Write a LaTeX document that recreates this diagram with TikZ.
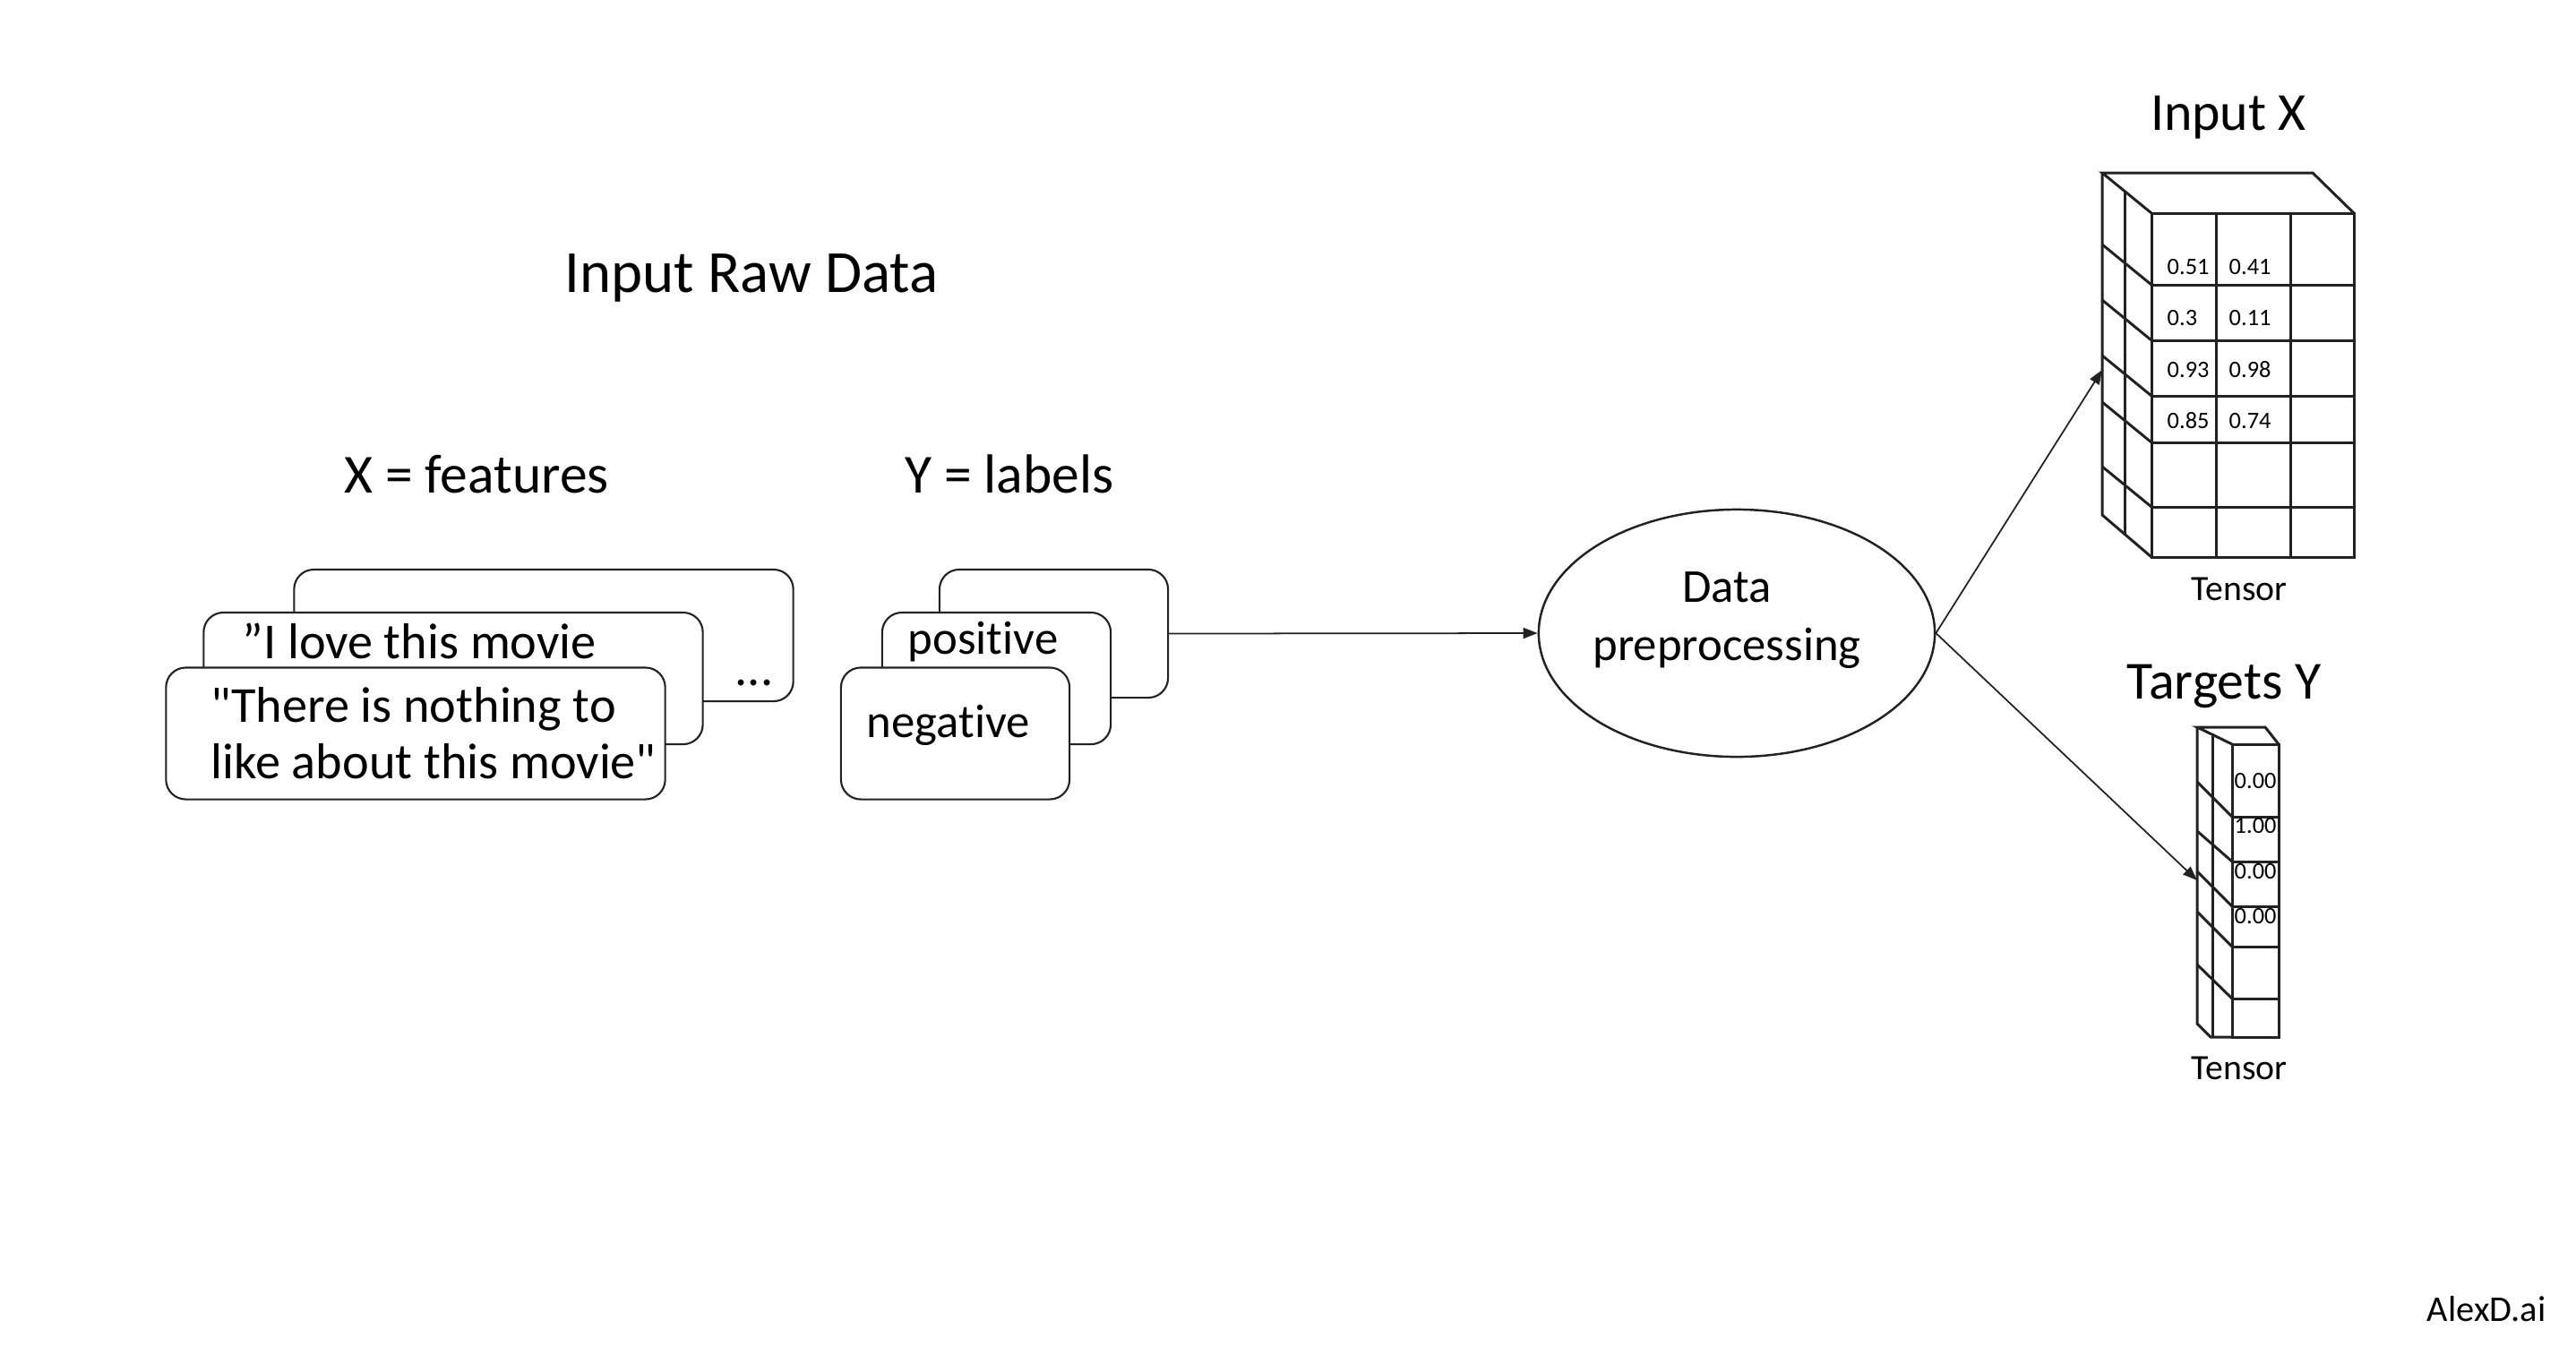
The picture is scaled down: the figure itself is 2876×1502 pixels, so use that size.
\documentclass[tikz,border=0pt]{standalone}
\usepackage{fontspec}
\setmainfont{Carlito}[Ligatures={TeX,NoCommon}]
\usetikzlibrary{arrows.meta,shapes.geometric}
\definecolor{ink}{RGB}{34,34,34}
\tikzset{
  card/.style={draw=ink, fill=white, line width=0.6pt, rounded corners=0.22cm,
               minimum height=1.47cm, inner sep=0pt},
  fcard/.style={card, minimum width=5.57cm},
  lcard/.style={card, minimum width=2.55cm},
  proc/.style={draw=ink, ellipse, line width=0.7pt, minimum width=4.42cm,
               minimum height=2.76cm, inner sep=0pt},
  arr/.style={-{Triangle[length=0.16cm, width=0.12cm]}, ink, line width=0.5pt},
  grid/.style={ink, line width=0.85pt, line join=miter},
  ttl/.style={font=\fontsize{19}{23}\selectfont, inner sep=0pt, anchor=base},
  hdr/.style={font=\fontsize{17.5}{21}\selectfont, inner sep=0pt, anchor=base},
  txt/.style={font=\fontsize{16}{19}\selectfont, inner sep=0pt, anchor=base west},
  ltxt/.style={font=\fontsize{15}{18}\selectfont, inner sep=0pt, anchor=base west},
  ptxt/.style={font=\fontsize{15}{18}\selectfont, inner sep=0pt, anchor=base},
  tns/.style={font=\fontsize{11.3}{13}\selectfont, inner sep=0pt, anchor=base},
  cell/.style={font=\fontsize{7.5}{9}\selectfont, inner sep=0pt, anchor=west},
  sign/.style={font=\fontsize{11.5}{14}\selectfont, inner sep=0pt, anchor=base},
}
\begin{document}
\begin{tikzpicture}[x=0.01cm, y=-0.01cm]
  \useasboundingbox (0,0) rectangle (2876,1502);

  % headings
  \node[ttl] (raw) at (839,326) {Input Raw Data};
  \node[hdr] (xhdr) at (532,550) {X = features};
  \node[hdr] (yhdr) at (1127,550) {Y = labels};

  % feature cards
  \node[fcard] (featback) at (607,709.5) {};
  \node[txt, anchor=base] (featdots) at (842,765) {...};
  \node[fcard] (featmid) at (506,757.5) {};
  \node[txt] (featmidtxt) at (270,735) {”I love this movie};
  \node[fcard] (featfront) at (464,819) {};
  \node[txt] (featline1) at (235,806) {\textquotedbl There is nothing to};
  \node[txt] (featline2) at (235,869) {like about this movie\textquotedbl};

  % label cards
  \node[lcard, minimum height=1.43cm] (lblback) at (1176.5,707.5) {};
  \node[lcard] (lblmid) at (1112.5,757.5) {};
  \node[ltxt] (lblpos) at (1013,730) {positive};
  \node[lcard] (lblfront) at (1066.5,819) {};
  \node[ltxt] (lblneg) at (967,823) {negative};

  % preprocessing
  \node[proc] (prep) at (1939,707) {};
  \node[ptxt] (preptop) at (1928,672) {Data};
  \node[ptxt] (prepbot) at (1928,737) {preprocessing};
  \draw[arr] (lblback.east) -- (prep.west);

  % input X tensor
  \node[hdr, font=\fontsize{17}{20}\selectfont] (xttl) at (2488,145) {Input X};
  \draw[grid] (2402,238) -- (2347,193) -- (2582,193) -- (2628,238);
  \draw[grid] (2347,193) -- (2347,575) -- (2402,622);
  \draw[grid] (2372,213) -- (2372,597);
  \foreach \yb/\yf in {273/318, 335/380, 397/442, 449/494, 521/566}
    \draw[grid] (2347,\yb) -- (2402,\yf);
  \draw[grid] (2402,238) rectangle (2628,622);
  \foreach \x in {2474,2557}
    \draw[grid] (\x,238) -- (\x,622);
  \foreach \y in {318,380,442,494,566}
    \draw[grid] (2402,\y) -- (2628,\y);
  \foreach \y/\a/\b in {298/0.51/0.41, 355/0.3/0.11, 413/0.93/0.98, 470/0.85/0.74} {
    \node[cell] at (2419,\y) {\a};
    \node[cell] at (2488,\y) {\b};
  }
  \node[tns] (xtns) at (2500,670) {Tensor};
  \coordinate (xin) at (2347,413);

  % targets Y tensor
  \node[hdr, font=\fontsize{17}{20}\selectfont] (yttl) at (2483,780) {Targets Y};
  \draw[grid] (2492,831) -- (2453,812) -- (2529,812) -- (2544,831);
  \draw[grid] (2453,812) -- (2453,1143) -- (2468,1158) -- (2492,1158);
  \draw[grid] (2470,822) -- (2470,1158);
  \foreach \yb/\yf in {873/912, 928/962, 973/1012, 1018/1057, 1077/1115}
    \draw[grid] (2453,\yb) -- (2492,\yf);
  \draw[grid] (2492,831) rectangle (2544,1158);
  \foreach \y in {912,962,1012,1057,1115}
    \draw[grid] (2492,\y) -- (2544,\y);
  \foreach \y/\v in {872/0.00, 922/1.00, 973/0.00, 1023/0.00}
    \node[cell] at (2494,\y) {\v};
  \node[tns] (ytns) at (2500,1205) {Tensor};
  \coordinate (yin) at (2453,983);

  \draw[arr] (prep.east) -- (xin);
  \draw[arr] (prep.east) -- (yin);

  \node[sign] (brand) at (2776,1475) {AlexD.ai};
\end{tikzpicture}
\end{document}
